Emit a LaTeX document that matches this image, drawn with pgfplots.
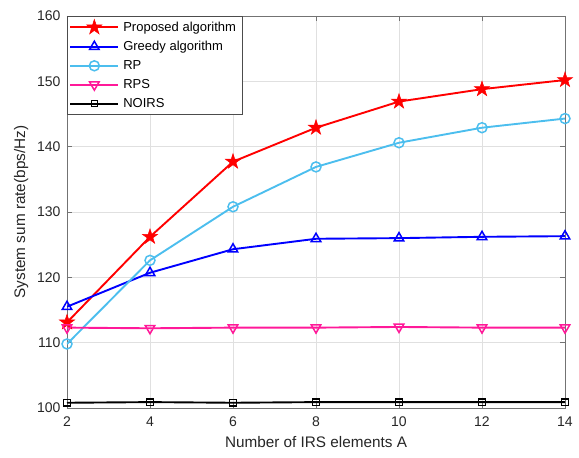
\documentclass[border=0pt]{standalone}
\usepackage{fontspec}
\setmainfont{Liberation Sans}
\usepackage{pgfplots}
\pgfplotsset{compat=1.18}
\usetikzlibrary{calc,plotmarks}
\definecolor{rpcol}{rgb}{0.30,0.745,0.933}
\definecolor{rpscol}{rgb}{1.0,0.1,0.6}
\definecolor{axcol}{rgb}{0.15,0.15,0.15}
\pgfdeclareplotmark{fstar}{%
  \pgfpathmoveto{\pgfpointpolar{90}{\pgfplotmarksize}}%
  \pgfpathlineto{\pgfpointpolar{126}{0.382*\pgfplotmarksize}}%
  \pgfpathlineto{\pgfpointpolar{162}{\pgfplotmarksize}}%
  \pgfpathlineto{\pgfpointpolar{198}{0.382*\pgfplotmarksize}}%
  \pgfpathlineto{\pgfpointpolar{234}{\pgfplotmarksize}}%
  \pgfpathlineto{\pgfpointpolar{270}{0.382*\pgfplotmarksize}}%
  \pgfpathlineto{\pgfpointpolar{306}{\pgfplotmarksize}}%
  \pgfpathlineto{\pgfpointpolar{342}{0.382*\pgfplotmarksize}}%
  \pgfpathlineto{\pgfpointpolar{18}{\pgfplotmarksize}}%
  \pgfpathlineto{\pgfpointpolar{54}{0.382*\pgfplotmarksize}}%
  \pgfpathclose
  \pgfusepathqfillstroke
}
\begin{document}
\begin{tikzpicture}
\begin{axis}[
  name=ax,
  scale only axis,
  width=498pt, height=392pt,
  xmin=2, xmax=14, ymin=100, ymax=160,
  xtick={2,4,...,14}, ytick={100,110,...,160},
  grid=major,
  major grid style={draw=black!12, line width=0.6pt},
  axis line style={draw=black!55, line width=0.8pt},
  tick style={draw=black!55, line width=0.8pt},
  tick align=inside,
  xtick pos=both, ytick pos=both,
  major tick length=5pt,
  /pgf/number format/assume math mode=true,
  ticklabel style={font=\fontsize{14}{16}\selectfont, text=axcol},
  xticklabel style={yshift=-5pt},
  yticklabel style={xshift=-3pt},
  xlabel={Number of IRS elements A},
  ylabel={System sum rate(bps/Hz)},
  label style={font=\fontsize{15.3}{18}\selectfont, text=axcol},
  xlabel style={yshift=-3pt},
  ylabel style={yshift=2pt},
  legend style={at={(rel axis cs:0,1)}, anchor=north west,
    font=\fontsize{13}{15}\selectfont, draw=black!70, line width=0.8pt,
    fill=white, row sep=4.4pt, inner xsep=2pt, inner ysep=3pt,
    nodes={inner xsep=4pt}},
  legend cell align=left,
  legend image code/.code={%
    \draw[mark repeat=2,mark phase=2] plot coordinates {(0pt,0pt) (24pt,0pt) (48pt,0pt)};},
  every axis plot/.append style={line width=1.9pt},
]
\addplot[color=red, mark=fstar, mark size=8pt, mark options={fill=red, line width=0.5pt}]
  coordinates {(2,113.1) (4,126.2) (6,137.7) (8,142.9) (10,146.9) (12,148.8) (14,150.2)};
\addlegendentry{Proposed algorithm}
\addplot[color=blue, mark=triangle, mark size=5.5pt, mark options={solid, line width=1.5pt}]
  coordinates {(2,115.5) (4,120.7) (6,124.3) (8,125.9) (10,126.0) (12,126.2) (14,126.3)};
\addlegendentry{Greedy algorithm}
\addplot[color=rpcol, mark=o, mark size=5pt, mark options={line width=1.5pt}]
  coordinates {(2,109.8) (4,122.6) (6,130.8) (8,136.9) (10,140.6) (12,142.9) (14,144.3)};
\addlegendentry{RP}
\addplot[color=rpscol, mark=triangle, mark size=5.5pt, mark options={rotate=180, line width=1.5pt}]
  coordinates {(2,112.3) (4,112.2) (6,112.3) (8,112.3) (10,112.4) (12,112.3) (14,112.3)};
\addlegendentry{RPS}
\addplot[color=black, mark=square, mark size=3.2pt, mark options={line width=1.2pt}]
  coordinates {(2,100.8) (4,100.9) (6,100.8) (8,100.9) (10,100.9) (12,100.9) (14,100.9)};
\addlegendentry{NOIRS}
\end{axis}
\path ($(ax.south west)+(-67pt,-50pt)$) rectangle ($(ax.north east)+(14pt,16pt)$);
\end{tikzpicture}
\end{document}
